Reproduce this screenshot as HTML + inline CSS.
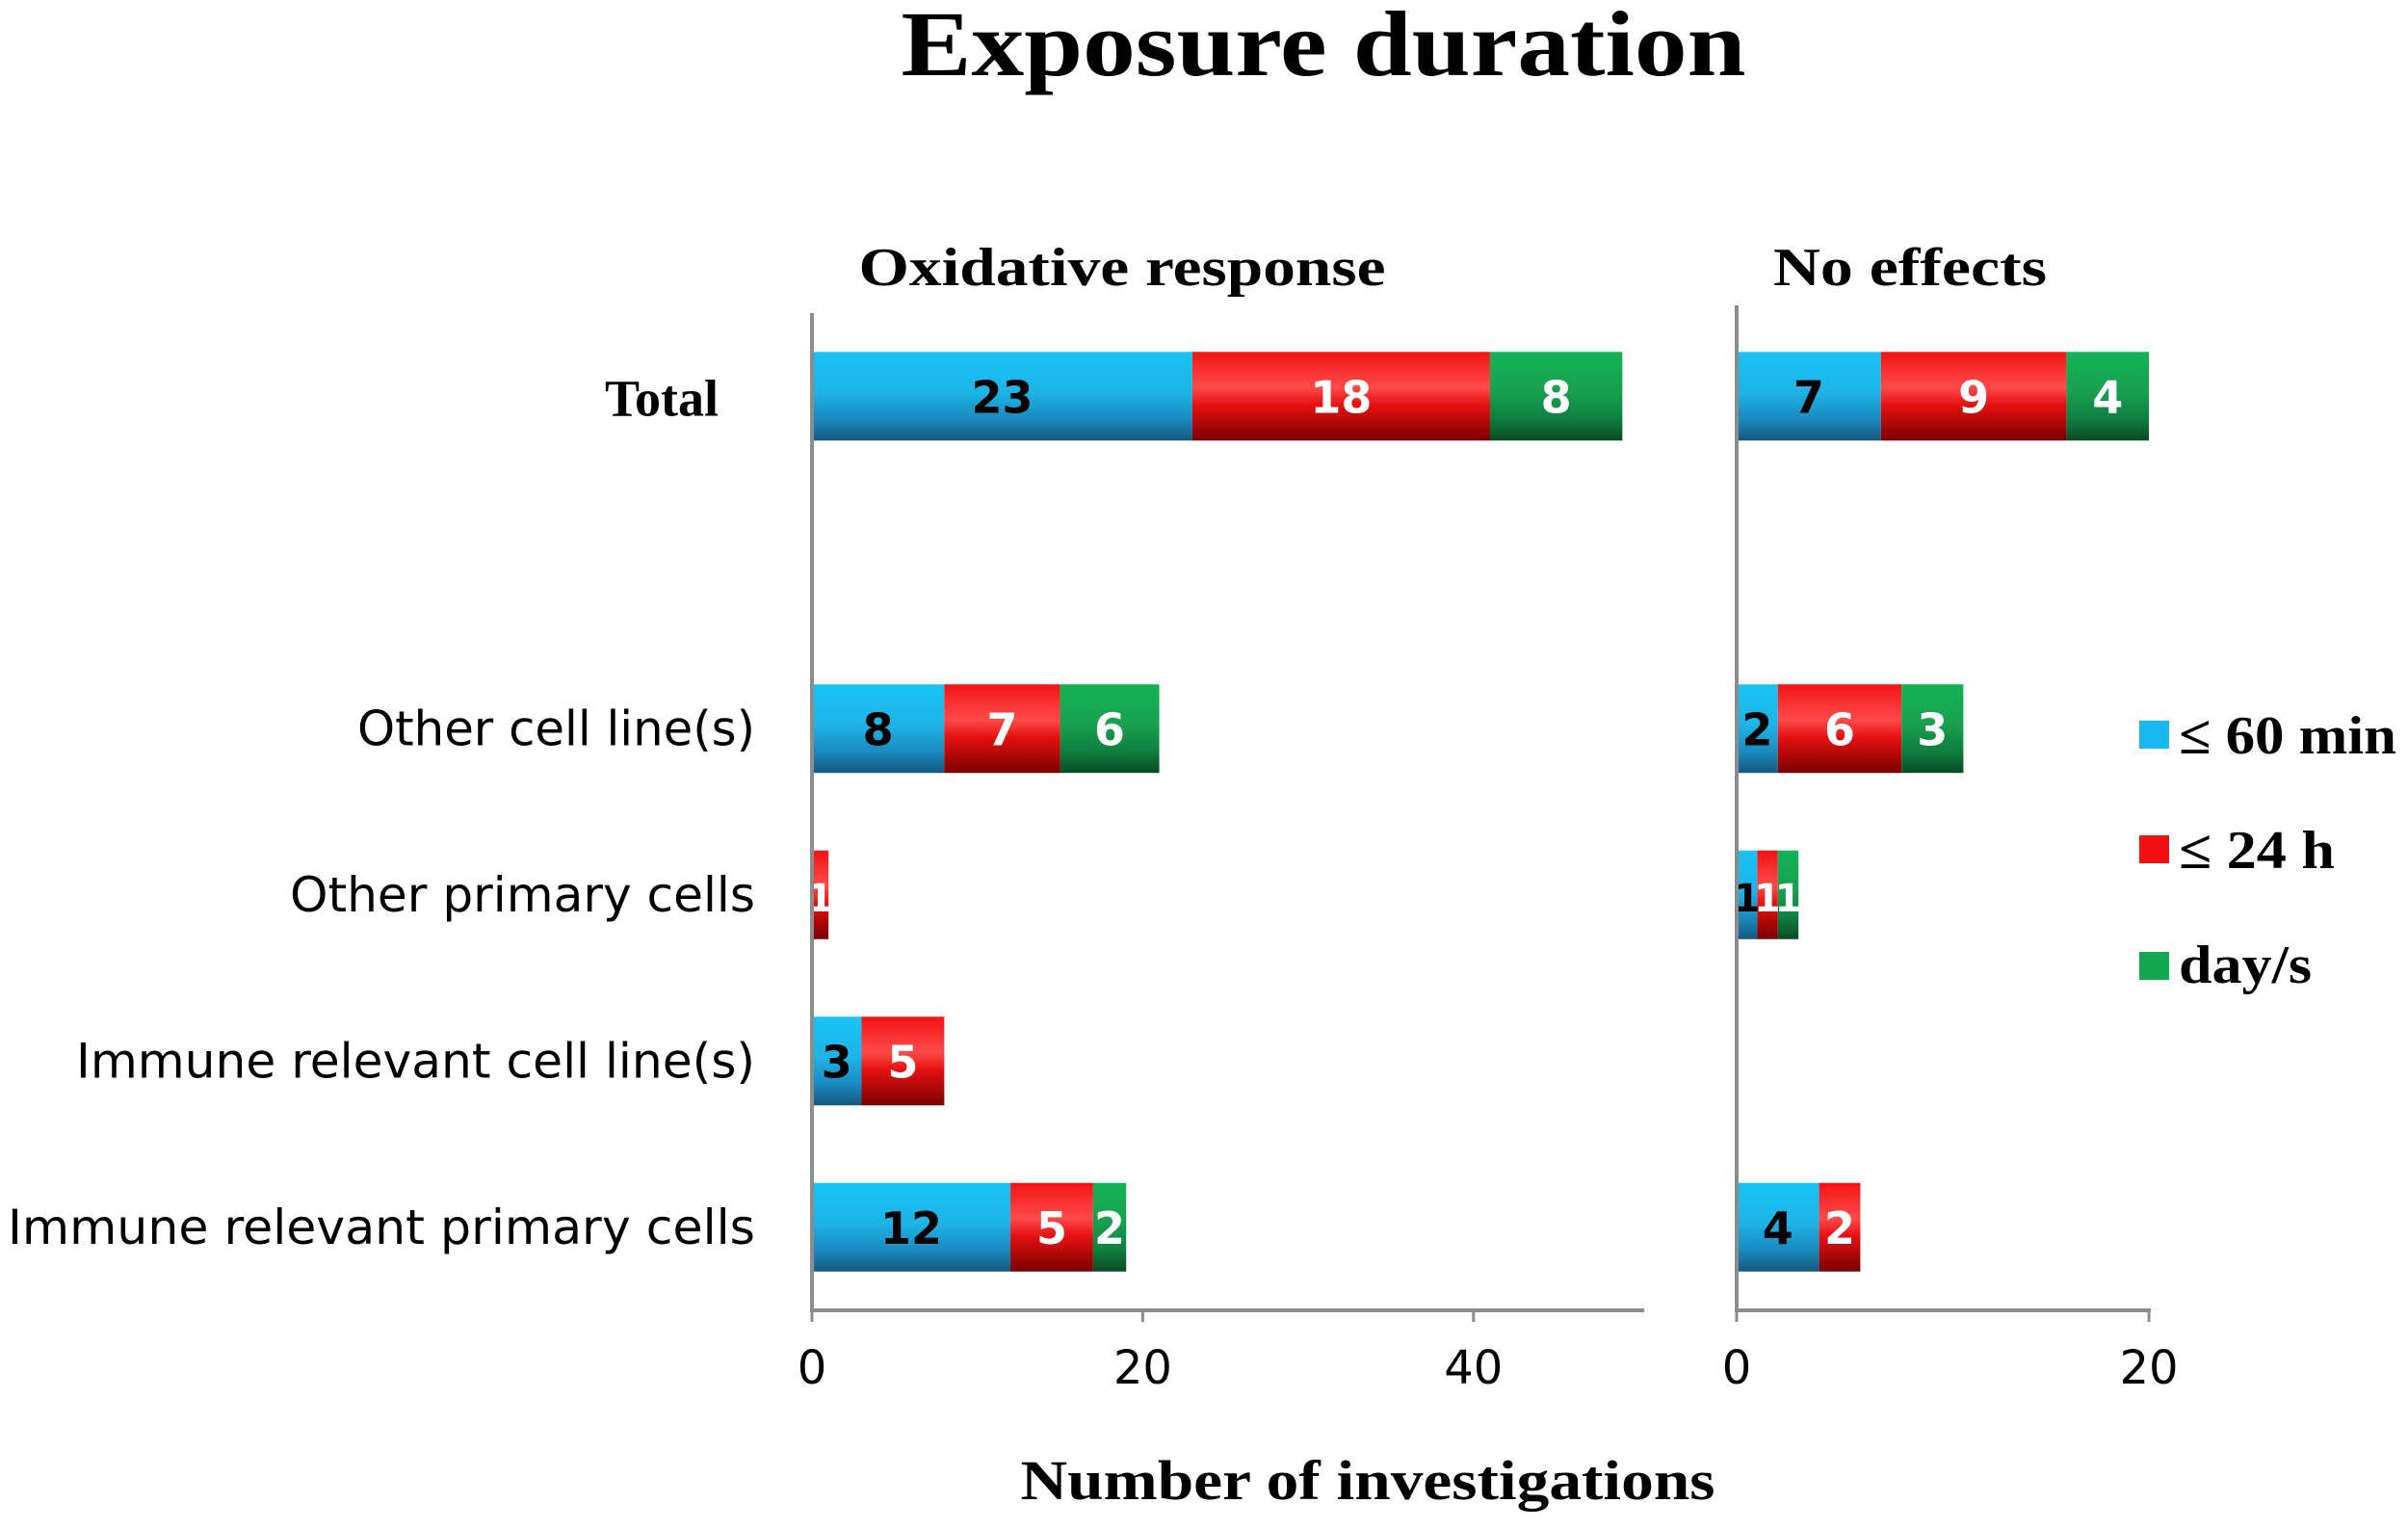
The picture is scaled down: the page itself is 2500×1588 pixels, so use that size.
<!DOCTYPE html>
<html><head><meta charset="utf-8"><style>
html,body{margin:0;padding:0;background:#fff;}
svg{display:block;}
</style></head><body>
<svg id="chart" width="2500" height="1588" viewBox="0 0 2500 1588" xmlns="http://www.w3.org/2000/svg">
<defs>
<linearGradient id="gBlue" x1="0" y1="0" x2="0" y2="1"><stop offset="0" stop-color="#18c4f4"/><stop offset="0.45" stop-color="#1eb4e8"/><stop offset="0.75" stop-color="#1a8cc0"/><stop offset="1" stop-color="#15587e"/></linearGradient>
<linearGradient id="gRed" x1="0" y1="0" x2="0" y2="1"><stop offset="0" stop-color="#f21414"/><stop offset="0.4" stop-color="#ff4a4a"/><stop offset="0.6" stop-color="#e51010"/><stop offset="1" stop-color="#7a0000"/></linearGradient>
<linearGradient id="gGreen" x1="0" y1="0" x2="0" y2="1"><stop offset="0" stop-color="#12b454"/><stop offset="0.45" stop-color="#18a050"/><stop offset="0.75" stop-color="#0e8040"/><stop offset="1" stop-color="#0a4a24"/></linearGradient>
</defs>
<text x="1374" y="78" text-anchor="middle" font-family="Liberation Serif, serif" font-weight="bold" font-size="96" textLength="877" lengthAdjust="spacingAndGlyphs" fill="#000">Exposure duration</text>
<text x="1165" y="296" text-anchor="middle" font-family="Liberation Serif, serif" font-weight="bold" font-size="56" textLength="547" lengthAdjust="spacingAndGlyphs" fill="#000">Oxidative response</text>
<text x="1983" y="296" text-anchor="middle" font-family="Liberation Serif, serif" font-weight="bold" font-size="56" textLength="284" lengthAdjust="spacingAndGlyphs" fill="#000">No effects</text>
<text x="1420" y="1556" text-anchor="middle" font-family="Liberation Serif, serif" font-weight="bold" font-size="58" textLength="721" lengthAdjust="spacingAndGlyphs" fill="#000">Number of investigations</text>
<g id="legend">
<rect x="2221" y="748" width="31" height="29" fill="#18b8f0"/>
<text x="2262" y="782" font-family="Liberation Serif, serif" font-weight="bold" font-size="56" textLength="226" lengthAdjust="spacingAndGlyphs" fill="#000">≤ 60 min</text>
<rect x="2221" y="867" width="31" height="29" fill="#f01010"/>
<text x="2262" y="901" font-family="Liberation Serif, serif" font-weight="bold" font-size="56" textLength="162" lengthAdjust="spacingAndGlyphs" fill="#000">≤ 24 h</text>
<rect x="2221" y="988" width="31" height="29" fill="#12a850"/>
<text x="2262" y="1020" font-family="Liberation Serif, serif" font-weight="bold" font-size="56" textLength="138" lengthAdjust="spacingAndGlyphs" fill="#000">day/s</text>
</g>
<g id="plot"></g>
</svg>
<script>
const categories = ["Total", "", "Other cell line(s)", "Other primary cells", "Immune relevant cell line(s)", "Immune relevant primary cells"];
const oxMin60 = [23, 0, 8, 0, 3, 12];
const oxH24 = [18, 0, 7, 1, 5, 5];
const oxDays = [8, 0, 6, 0, 0, 2];
const noMin60 = [7, 0, 2, 1, 0, 4];
const noH24 = [9, 0, 6, 1, 0, 2];
const noDays = [4, 0, 3, 1, 0, 0];
const oxTicks = [0, 20, 40];
const noTicks = [0, 20];

const NS = "http://www.w3.org/2000/svg";
const plot = document.getElementById("plot");
function mk(tag, attrs) { const e = document.createElementNS(NS, tag); for (const k in attrs) e.setAttribute(k, attrs[k]); plot.appendChild(e); return e; }

const labelStyleWidths = { "Other cell line(s)": 413, "Other primary cells": 483, "Immune relevant cell line(s)": 705, "Immune relevant primary cells": 776 };

const yTop = 325, yBot = 1360, barH = 92;
const slot = (yBot - yTop) / categories.length;
function yCenter(i) { return yTop + slot * (i + 0.5); }

const panels = [
  { key: "oxidative", x0: 843, pxPerUnit: 17.17, axisEnd: 1707, ticks: oxTicks, series: [oxMin60, oxH24, oxDays] },
  { key: "no-effects", x0: 1803, pxPerUnit: 21.4, axisEnd: 2233, ticks: noTicks, series: [noMin60, noH24, noDays] }
];
const fills = ["url(#gBlue)", "url(#gRed)", "url(#gGreen)"];
const txtCol = ["#000", "#fff", "#fff"];
const sNames = ["60min", "24h", "days"];

panels.forEach(p => {
  const sx = v => p.x0 + v * p.pxPerUnit;
  categories.forEach((c, i) => {
    let acc = 0;
    p.series.forEach((s, si) => {
      const v = s[i];
      if (v > 0) {
        const r = mk("rect", { x: sx(acc), y: yCenter(i) - barH / 2, width: sx(acc + v) - sx(acc), height: barH, fill: fills[si] });
        
        
        const w = sx(acc + v) - sx(acc);
        const t = mk("text", { x: (sx(acc) + sx(acc + v)) / 2, y: yCenter(i) + 17, "text-anchor": "middle", "font-family": "DejaVu Sans, sans-serif", "font-weight": "bold", "font-size": w < 25 ? 40 : 46, fill: txtCol[si] });
        t.textContent = v;
        
        
      }
      acc += v;
    });
  });
  const ax = mk("line", { x1: p.x0, y1: yTop - (p.key === "oxidative" ? 0 : 8), x2: p.x0, y2: yBot, stroke: "#8c8c8c", "stroke-width": 4 });
  
  
  const bx = mk("line", { x1: p.x0 - 2, y1: yBot, x2: p.axisEnd, y2: yBot, stroke: "#8c8c8c", "stroke-width": 4 });
  
  
  p.ticks.forEach(tv => {
    const tk = mk("line", { x1: sx(tv), y1: yBot, x2: sx(tv), y2: yBot + 12, stroke: "#8c8c8c", "stroke-width": 3 });
    
    
    const tl = mk("text", { x: sx(tv), y: yBot + 76, "text-anchor": "middle", "font-family": "DejaVu Sans, sans-serif", "font-size": 48, fill: "#000" });
    tl.textContent = tv;
    
    
  });
});

categories.forEach((c, i) => {
  if (!c) return;
  const isTotal = c === "Total";
  const attrs = { x: isTotal ? 746 : 784, y: yCenter(i) + (isTotal ? 20 : 17), "text-anchor": "end", "font-family": isTotal ? "Liberation Serif, serif" : "DejaVu Sans, sans-serif", "font-size": isTotal ? 54 : 50, "font-weight": isTotal ? "bold" : "normal", fill: "#000" };
  if (!isTotal && labelStyleWidths[c]) { attrs.textLength = labelStyleWidths[c]; attrs.lengthAdjust = "spacingAndGlyphs"; }
  const t = mk("text", attrs);
  t.textContent = c;
  
  
});
</script>
</body></html>
